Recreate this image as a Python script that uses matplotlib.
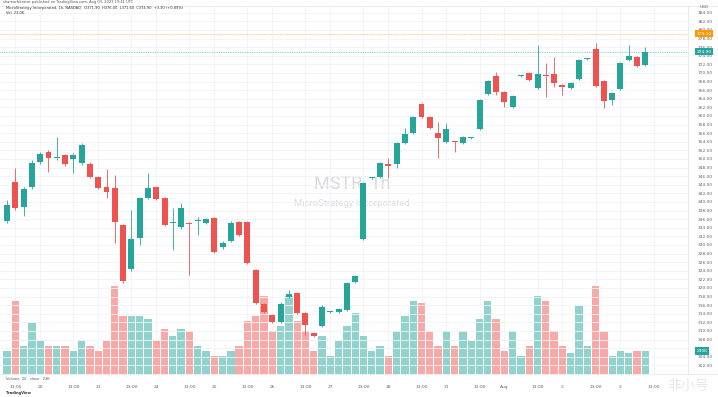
import numpy as np
import matplotlib.pyplot as plt

# MSTR 1h candles (open, high, low, close)
opens = [335.6, 344.7, 338.8, 343.5, 349.3, 351.6, 350.3, 350.9, 350.0, 349.1,
         348.8, 345.8, 343.5, 343.3, 334.7, 324.4, 331.6, 340.9, 343.5, 340.9,
         335.1, 334.2, 335.1, 335.6, 335.1, 336.3, 329.5, 330.9, 335.3, 335.3,
         324.2, 316.3, 313.7, 312.1, 317.9, 318.8, 314.2, 309.5, 311.2, 314.4,
         314.4, 314.9, 321.4, 331.4, 345.5, 345.8, 348.8, 348.8, 353.7, 356.0,
         362.8, 359.8, 356.0, 354.0, 354.1, 353.7, 354.8, 357.0, 365.1, 369.3,
         365.6, 362.1, 369.3, 370.0, 366.5, 369.6, 369.8, 367.2, 366.5, 368.6,
         373.2, 375.6, 368.1, 363.7, 366.3, 373.0, 373.7, 371.9]
highs = [340.5, 347.9, 343.5, 349.8, 351.6, 352.0, 355.1, 351.2, 351.4, 353.7,
         349.3, 346.0, 347.7, 346.3, 334.9, 338.1, 341.1, 346.7, 343.7, 341.1,
         338.6, 339.8, 335.3, 336.5, 336.3, 336.5, 330.9, 335.6, 335.6, 335.6,
         324.4, 316.5, 313.9, 316.7, 319.5, 319.1, 314.4, 309.8, 316.0, 314.7,
         315.3, 321.4, 323.0, 344.7, 345.8, 349.3, 350.2, 354.0, 357.2, 360.0,
         363.0, 360.0, 358.6, 358.4, 354.2, 355.3, 355.1, 364.0, 368.4, 370.2,
         365.8, 364.9, 369.5, 370.2, 376.5, 372.3, 373.7, 367.5, 368.0, 373.3,
         373.5, 377.0, 368.4, 365.6, 372.6, 376.5, 374.0, 376.0]
lows = [335.1, 338.1, 336.7, 343.0, 348.8, 347.0, 349.8, 348.4, 346.7, 348.6,
        345.6, 343.0, 340.9, 330.5, 321.2, 323.9, 330.0, 340.7, 340.5, 334.4,
        328.8, 333.7, 323.0, 332.3, 334.9, 328.1, 329.0, 330.7, 332.1, 325.6,
        316.3, 314.2, 311.9, 311.9, 317.7, 313.9, 309.1, 308.6, 311.0, 314.2,
        314.2, 314.7, 321.2, 331.2, 345.3, 345.6, 345.6, 347.9, 353.5, 355.8,
        359.5, 357.0, 350.2, 353.7, 351.6, 353.5, 354.6, 356.7, 364.9, 364.9,
        362.1, 361.9, 369.1, 368.1, 366.3, 364.4, 366.7, 364.9, 366.3, 368.4,
        373.0, 366.7, 361.9, 362.6, 366.0, 372.8, 371.4, 371.6]
closes = [339.3, 338.6, 343.0, 349.1, 351.2, 350.2, 350.5, 348.8, 350.9, 353.3,
          345.8, 343.3, 342.3, 335.3, 321.6, 331.4, 340.9, 343.3, 340.7, 334.7,
          335.3, 338.6, 334.9, 335.8, 336.0, 328.4, 330.5, 335.1, 332.3, 325.8,
          316.5, 314.4, 312.1, 316.3, 318.6, 314.2, 311.4, 308.8, 315.6, 314.5,
          315.1, 321.2, 322.8, 344.4, 345.6, 349.1, 348.4, 353.7, 355.8, 359.8,
          359.8, 357.2, 354.9, 357.0, 353.9, 355.1, 354.9, 363.7, 368.1, 365.6,
          363.3, 364.7, 369.4, 368.4, 369.8, 369.4, 367.7, 366.7, 367.7, 373.0,
          373.4, 367.0, 363.5, 365.3, 372.3, 374.0, 371.6, 374.9]
# volume in thousands
volumes = [230, 730, 280, 510, 330, 280, 280, 280, 230, 330,
           280, 230, 330, 880, 580, 580, 580, 550, 330, 450,
           380, 450, 430, 280, 230, 180, 180, 230, 280, 530,
           580, 780, 430, 480, 780, 530, 430, 230, 380, 180,
           330, 480, 610, 380, 230, 280, 180, 430, 580, 730,
           710, 430, 280, 430, 280, 430, 330, 550, 730, 550,
           230, 430, 180, 280, 780, 730, 430, 280, 210, 680,
           280, 880, 430, 180, 230, 210, 230, 230]

tick_pos = [1, 4, 8, 11, 15, 18, 22, 25, 29, 32, 36, 39, 43, 46, 50, 53,
            57, 60, 64, 67, 71, 74, 78]
tick_labels = ["13:00", "20", "13:00", "21", "13:00", "24", "13:00", "25",
               "13:00", "26", "13:00", "27", "13:00", "28", "13:00", "31",
               "13:00", "Aug", "13:00", "2", "13:00", "3", "13:00"]
price_ticks = np.arange(302, 386, 2)
post_price = 379.1

up_col = '#26a69a'
dn_col = '#ef5350'
up_vol = '#92d2cc'
dn_vol = '#f7a9a7'

opens = np.array(opens)
closes = np.array(closes)
highs = np.array(highs)
lows = np.array(lows)
x = np.arange(len(opens))
up = closes >= opens

fig = plt.figure(figsize=(7.18, 3.97), dpi=100)
W, H = 718, 397
ax_rect = [0, (H - 374) / H, 688 / W, (374 - 6) / H]

# volume pane sits behind the price pane
vax = fig.add_axes(ax_rect)
ax = fig.add_axes(ax_rect, sharex=vax)
ax.patch.set_visible(False)

vax.bar(x, volumes, width=0.88, color=np.where(up, up_vol, dn_vol), zorder=2)
vax.set_ylim(0, 3680)
vax.set_yticks([])
vax.set_xlim(-0.85, 82.15)
vax.set_xticks(tick_pos)
vax.grid(axis='x', color='#f0f3fa', lw=0.6, zorder=0)
for s in vax.spines.values():
    s.set_visible(False)
vax.tick_params(axis='x', length=0, labelbottom=False)

ax.set_ylim(300.0, 385.58)
ax.set_yticks(price_ticks)
# the volume value box covers the 306 label, as on the screenshot
ax.set_yticklabels(['' if p == 306 else f'{p:.2f}' for p in price_ticks])
ax.grid(axis='y', color='#f0f3fa', lw=0.6, zorder=0)
ax.yaxis.tick_right()
ax.tick_params(axis='y', length=0, pad=7, labelsize=3.2, labelcolor='#666666')
ax.tick_params(axis='x', length=0, pad=8, labelsize=3.2, labelcolor='#666666')
ax.set_xticks(tick_pos)
ax.set_xticklabels(tick_labels)
for s in ax.spines.values():
    s.set_visible(False)

# watermark
ax.text(0.512, 0.519, 'MSTR, 1h', transform=ax.transAxes, fontsize=13,
        color='#d9d9d9', ha='center', va='center', family='Roboto', zorder=1)
ax.text(0.512, 0.462, 'MicroStrategy Incorporated', transform=ax.transAxes,
        fontsize=6.8, color='#dcdcdc', ha='center', va='center',
        family='Roboto', zorder=1)

# candles
cols = np.where(up, up_col, dn_col)
ax.vlines(x, lows, highs, colors=cols, lw=0.6, zorder=3)
body = np.maximum(np.abs(closes - opens), 0.22)
ax.bar(x, body, bottom=np.minimum(opens, closes), width=0.72, color=cols,
       zorder=4)

# price lines
ax.axhline(post_price, color='#ff9800', lw=0.5, ls=(0, (1, 1.5)), zorder=2)
ax.axhline(closes[-1], color=up_col, lw=0.5, ls=(0, (1, 1.5)), zorder=2)
ax.text(1.012, post_price, f'{post_price:.2f}', transform=ax.get_yaxis_transform(),
        fontsize=3.2, color='white', va='center', ha='left', zorder=6,
        bbox=dict(boxstyle='square,pad=0.35', fc='#ff9800', ec='none'),
        clip_on=False)
ax.text(1.012, closes[-1], f'{closes[-1]:.2f}', transform=ax.get_yaxis_transform(),
        fontsize=3.2, color='white', va='center', ha='left', zorder=6,
        bbox=dict(boxstyle='square,pad=0.35', fc=up_col, ec='none'),
        clip_on=False)
vax.text(1.012, volumes[-1], f'{volumes[-1]}K', transform=vax.get_yaxis_transform(),
         fontsize=3.2, color='white', va='center', ha='left', zorder=6,
         bbox=dict(boxstyle='square,pad=0.35', fc=up_col, ec='none'),
         clip_on=False)
fig.text(700 / W, 1 - 7 / H, 'USD', fontsize=3.2, color='#666666', va='center')

# right scale separator and frame
fig.add_artist(plt.Line2D([688 / W, 688 / W], [(H - 374) / H, 1 - 6 / H],
                          color='#e0e3eb', lw=0.5))
fig.add_artist(plt.Line2D([0, 1], [1 - 5.5 / H, 1 - 5.5 / H],
                          color='#e0e3eb', lw=0.5))
fig.add_artist(plt.Line2D([0, 1], [(H - 374) / H, (H - 374) / H],
                          color='#e0e3eb', lw=0.5))

# header texts
fig.text(3 / W, 1 - 2.5 / H,
         'sharearbitrator published on TradingView.com, Aug 03, 2023 19:41 UTC',
         fontsize=2.6, color='#555555', va='center')
fig.text(6 / W, 1 - 8.5 / H,
         'MicroStrategy Incorporated, 1h, NASDAQ   O371.90  H376.00  L371.60  '
         'C374.90  +3.30 (+0.89%)',
         fontsize=2.6, color='#333333', va='center')
fig.text(6 / W, 1 - 12.5 / H, 'Vol  23.0K', fontsize=2.6, color='#333333',
         va='center')
fig.text(6 / W, 1 - 379 / H, 'Volume  20   close   23K', fontsize=2.6,
         color='#555555', va='center')
fig.text(6 / W, 1 - 393 / H, 'TradingView', fontsize=2.6, color='#333333',
         va='center', weight='bold')

# site watermark in the bottom corner
fig.text(688 / W, 1 - 386 / H, '非小号', fontsize=10, color='#e8e8e8',
         va='center', ha='center', family=['Noto Sans CJK SC', 'DejaVu Sans'])

fig.savefig('out.png', dpi=100, facecolor='white')
